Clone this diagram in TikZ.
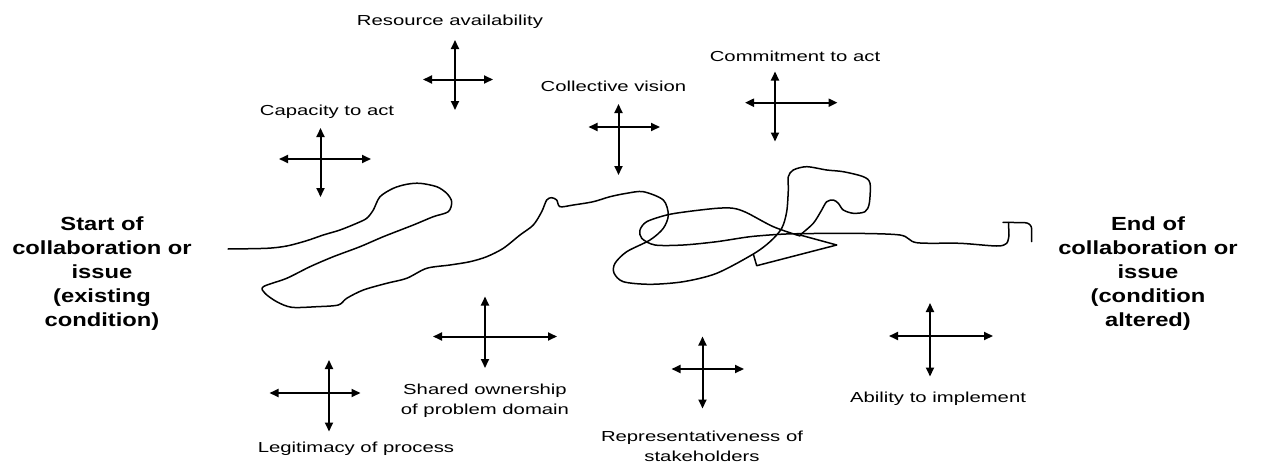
\documentclass[tikz,border=0pt]{standalone}
\usepackage{fontspec}
\usepackage{tikz}
\usetikzlibrary{
  arrows.meta
}
\newfontfamily\factorfont{Liberation Sans}[FakeStretch=1.4]
\newfontfamily\endsfont{Liberation Sans}[FakeStretch=1.25]
\tikzset{
  factor/.style={font=\factorfont\fontsize{14.5}{20}\selectfont,align=center,inner sep=0pt},
  endlabel/.style={font=\endsfont\bfseries\fontsize{19}{24}\selectfont,align=center,inner sep=0pt},
  push/.style={line width=2pt,{Triangle[length=9pt,width=8pt]}-{Triangle[length=9pt,width=8pt]}},
  trail/.style={line width=1.5pt,line join=round,line cap=round}
}

\begin{document}
\begin{tikzpicture}[x=1pt,y=-1pt]
        \useasboundingbox (0,0) rectangle (1262,463);
        % the two ends
        \node[endlabel] (start) at (102,274) {Start of\\collaboration or\\issue\\(existing\\condition)};
        \node[endlabel] (finish) at (1148,274) {End of\\collaboration or\\issue\\(condition\\altered)};
        % factors
        \node[factor] (capacity) at (327,112) {Capacity to act};
        \node[factor] (resource) at (450,21.5) {Resource availability};
        \node[factor] (vision) at (613.5,86) {Collective vision};
        \node[factor] (commitment) at (795,56.5) {Commitment to act};
        \node[factor] (ownership) at (485,400.5) {Shared ownership\\of problem domain};
        \node[factor] (legitimacy) at (356,448.5) {Legitimacy of process};
        \node[factor] (represent) at (702,446) {Representativeness of\\stakeholders};
        \node[factor] (ability) at (938,398.5) {Ability to implement};
        % forces, one cross per factor
        \foreach \nm/\cx/\cy/\xl/\xr/\yt/\yb in {
            cap/320.5/159/279/371/128/197,
            res/455/79.5/423/493/40/110,
            col/618.5/127/588.5/660/104/175,
            com/775/102.7/745/837.5/71.5/141.5,
            shr/485/336.5/433/557/296.5/368,
            leg/329/393/269.5/360.5/360/431.5,
            rep/702.5/369/671.5/744/336.5/408.5,
            abl/930/336/889/993/303/376.5}{
          \coordinate (\nm-w) at (\xl,\cy);
          \coordinate (\nm-e) at (\xr,\cy);
          \coordinate (\nm-n) at (\cx,\yt);
          \coordinate (\nm-s) at (\cx,\yb);
          \draw[push] (\nm-w) -- (\nm-e);
          \draw[push] (\nm-n) -- (\nm-s);
        }
        % the path of the collaboration
        \draw[trail] plot[smooth,tension=0.5] coordinates {
            (228,249) (266.7,248.3) (286.7,246) (306.7,240.7) (323.3,235) (340,230)
            (356.7,223.3) (366.7,218.3) (373.3,210) (380,196.7) (393.3,188.3) (406.7,184.3)
            (420,183.3) (436.7,186.7) (446.7,193.3) (451.7,201.7) (448.3,211.7) (433.3,216.7)
            (413.3,225) (383.3,236.7) (360,246.7) (333.3,256.7) (310,266.7) (286.7,278.3)
            (263.3,286.7) (265,293.3) (276.7,301.7) (291.7,307.3) (316.7,306.7) (338.3,305)
            (346.7,298.3) (363.3,290) (386.7,283.3) (406.7,278.3) (426.7,268.3) (450,265)
            (470,261.7) (486.7,256.7) (503.3,248.3) (520,235) (533.3,225) (541.7,211.7)
            (546.7,200) (551.7,197.7) (556.7,200) (560,206.7) (573.3,205) (593.3,201.7)
            (610,196.7) (626.7,193.3) (643.3,191.7) (663.3,200) (668.3,215) (663.3,228.3)
            (650,240) (626.7,251.7) (615,263.3) (614,273) (623.3,281.7) (650,284.3)
            (683.3,281.7) (716.7,273.3) (753.3,254) (770,241.7) (781.7,228.3) (786.7,211.7)
            (788.3,190) (788.3,176.7) (793.3,170) (806.7,166.7) (826.7,170) (843.3,171.7)
            (863.3,176.7) (870,183.3) (869.3,203.3) (865,211.7) (853.3,213.3) (843.3,210)
            (838.3,203.3) (833.3,200) (826.7,201.7) (821.7,210) (813.3,223.3) (800,235)}
          -- (836.7,245) -- (756.7,265.7) -- (753.3,254);
        \draw[trail] plot[smooth,tension=0.5] coordinates {
            (800,236) (773.3,226.7) (746.7,212.7) (733.3,208.3) (716.7,208.3) (686.7,211.7)
            (666.7,215) (646.7,221.7) (640,230) (641.7,238.3) (655,245) (683.3,245)
            (716.7,241.7) (750,236.7) (780,234.3) (800,233.7) (850,233.3) (900,235)
            (916.7,242.7) (960,243.3) (996.7,246) (1006.7,243.3) (1009,235)}
          -- (1008.5,222.5);
        \draw[trail] (1003,222.3) -- (1025,222.7) to[out=0,in=90] (1031.7,229) -- (1031.7,241.7);
      \end{tikzpicture}
\end{document}
